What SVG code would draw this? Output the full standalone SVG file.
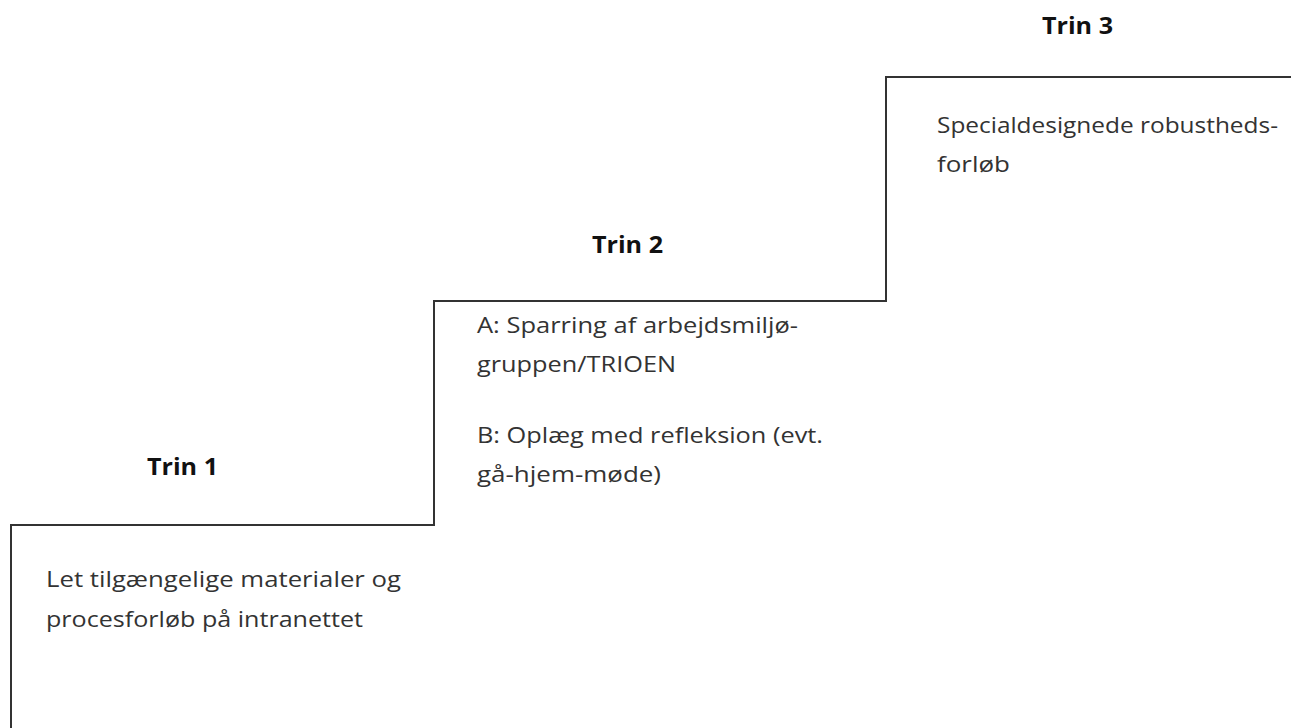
<svg xmlns="http://www.w3.org/2000/svg" width="1291" height="728" viewBox="0 0 1291 728">
<style>
.t{font-family:"Open Sans","Liberation Sans",sans-serif;font-size:22.5px;fill:#333}
.h{font-family:"Open Sans","Liberation Sans",sans-serif;font-size:22.5px;font-weight:bold;fill:#111}
.step{fill:none;stroke:#333;stroke-width:2}
</style>
<rect width="1291" height="728" fill="#fff"/>
<g id="connectors">
<path class="step" d="M11,728 V525 H434 V301 H886 V77 H1291"/>
</g>
<g id="trin1">
<text class="h" x="147" y="475" textLength="71" lengthAdjust="spacingAndGlyphs">Trin 1</text>
<text class="t" x="46" y="587" textLength="355" lengthAdjust="spacingAndGlyphs">Let tilgængelige materialer og</text>
<text class="t" x="46" y="627" textLength="317" lengthAdjust="spacingAndGlyphs">procesforløb på intranettet</text>
</g>
<g id="trin2">
<text class="h" x="592" y="253" textLength="71" lengthAdjust="spacingAndGlyphs">Trin 2</text>
<text class="t" x="477" y="333" textLength="321" lengthAdjust="spacingAndGlyphs">A: Sparring af arbejdsmiljø-</text>
<text class="t" x="477" y="372" textLength="199" lengthAdjust="spacingAndGlyphs">gruppen/TRIOEN</text>
<text class="t" x="477" y="443" textLength="346" lengthAdjust="spacingAndGlyphs">B: Oplæg med refleksion (evt.</text>
<text class="t" x="477" y="482" textLength="184" lengthAdjust="spacingAndGlyphs">gå-hjem-møde)</text>
</g>
<g id="trin3">
<text class="h" x="1042" y="34" textLength="71" lengthAdjust="spacingAndGlyphs">Trin 3</text>
<text class="t" x="937" y="133" textLength="341" lengthAdjust="spacingAndGlyphs">Specialdesignede robustheds-</text>
<text class="t" x="937" y="172" textLength="73" lengthAdjust="spacingAndGlyphs">forløb</text>
</g>
</svg>
